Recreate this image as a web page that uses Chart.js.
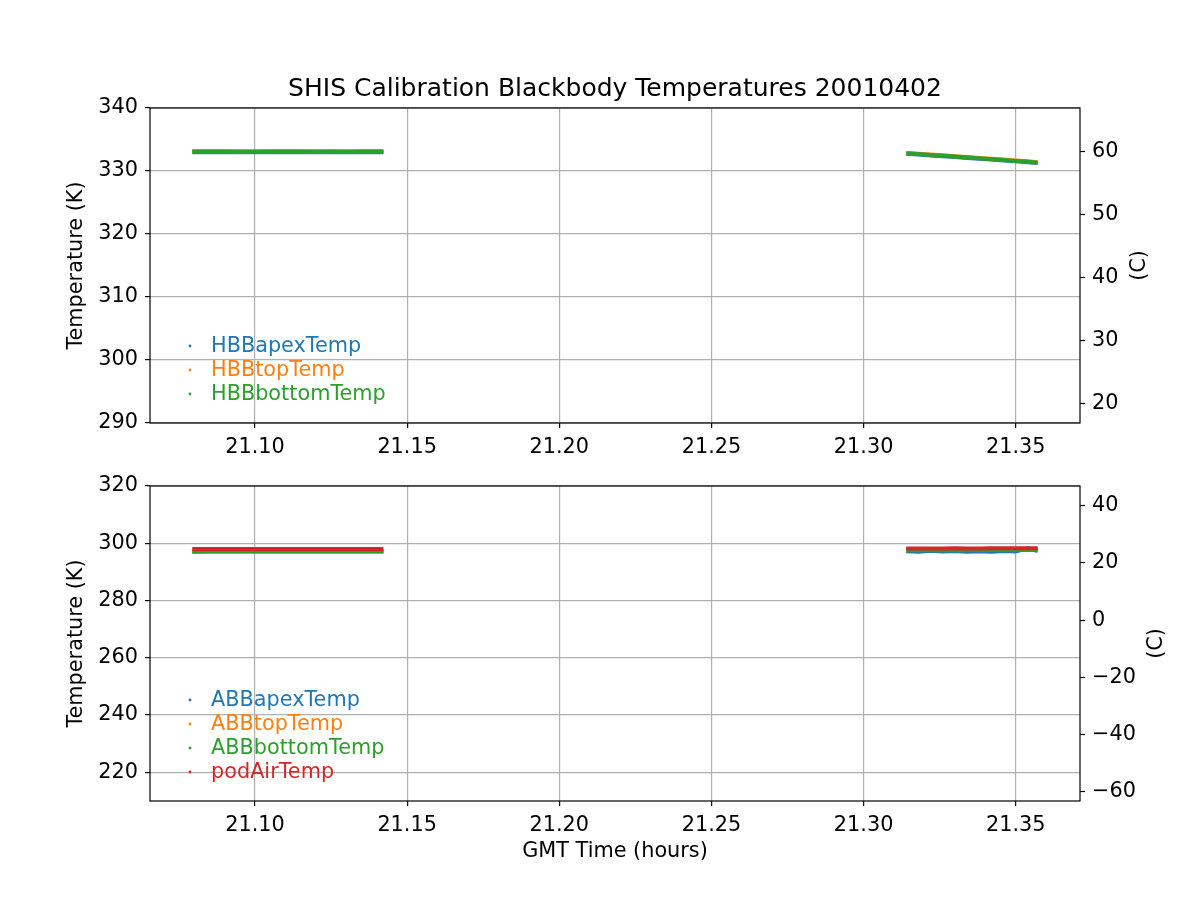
<!DOCTYPE html>
<html>
<head>
<meta charset="utf-8">
<script src="https://cdn.jsdelivr.net/npm/chart.js@4.4.0/dist/chart.umd.min.js"></script>
<style>
body { margin: 0; background: #fff; }
#wrap { position: relative; width: 1200px; height: 900px; }
canvas { position: absolute; left: 0; }
#top-chart { top: 0; }
#bottom-chart { top: 460px; }
</style>
</head>
<body>
<div id="wrap">
<canvas id="top-chart" width="1200" height="460"></canvas>
<canvas id="bottom-chart" width="1200" height="440"></canvas>
</div>
<script>
// time stamps (GMT hours) for the two calibration runs
const timeA = [21.0794, 21.085, 21.090, 21.095, 21.100, 21.105, 21.110, 21.115, 21.120, 21.125, 21.130, 21.135, 21.1422];
const timeB = [21.314, 21.318, 21.322, 21.326, 21.330, 21.334, 21.338, 21.342, 21.346, 21.350, 21.354, 21.3572];

// hot blackbody (K)
const hbbApexA = [332.98, 332.98, 332.97, 332.98, 332.98, 332.98, 332.97, 332.98, 332.98, 332.98, 332.97, 332.98, 332.98];
const hbbTopA = [333.12, 333.12, 333.12, 333.11, 333.12, 333.12, 333.12, 333.12, 333.11, 333.12, 333.12, 333.12, 333.12];
const hbbBottomA = [333.08, 333.08, 333.08, 333.08, 333.07, 333.08, 333.08, 333.08, 333.08, 333.08, 333.07, 333.08, 333.08];
const hbbApexB = [332.72, 332.60, 332.47, 332.36, 332.22, 332.08, 331.95, 331.81, 331.68, 331.53, 331.40, 331.26];
const hbbTopB = [332.86, 332.74, 332.61, 332.49, 332.35, 332.22, 332.08, 331.95, 331.81, 331.67, 331.53, 331.40];
const hbbBottomB = [332.80, 332.68, 332.55, 332.43, 332.29, 332.15, 332.02, 331.88, 331.74, 331.60, 331.46, 331.30];

// ambient blackbody + pod air (K)
const abbApexA = [297.15, 297.15, 297.1, 297.15, 297.15, 297.15, 297.15, 297.1, 297.15, 297.15, 297.15, 297.15, 297.15];
const abbTopA = [297.25, 297.25, 297.25, 297.25, 297.25, 297.25, 297.25, 297.25, 297.25, 297.25, 297.25, 297.25, 297.25];
const abbBottomA = [297.0, 297.2, 297.2, 297.2, 297.2, 297.2, 297.2, 297.2, 297.2, 297.2, 297.2, 297.2, 297.2];
const podAirA = [298.0, 298.0, 298.0, 298.0, 298.0, 298.0, 298.0, 298.0, 298.0, 298.0, 298.0, 298.0, 298.0];
const abbApexB = [297.2, 297.0, 297.4, 297.1, 297.3, 297.0, 297.2, 297.0, 297.3, 297.1, 298.3, 297.3];
const abbTopB = [297.7, 297.7, 297.7, 297.7, 297.7, 297.7, 297.7, 297.7, 297.7, 297.7, 297.7, 297.7];
const abbBottomB = [297.6, 297.6, 297.65, 297.6, 297.65, 297.6, 297.65, 297.65, 297.6, 297.65, 297.65, 297.65];
const podAirB = [298.15, 298.2, 298.2, 298.2, 298.25, 298.2, 298.2, 298.25, 298.3, 298.3, 298.3, 298.3];

// axis ticks
const timeTicks = [21.10, 21.15, 21.20, 21.25, 21.30, 21.35];
const topKTicks = [290, 300, 310, 320, 330, 340];
const topCTicks = [20, 30, 40, 50, 60];
const bottomKTicks = [220, 240, 260, 280, 300, 320];
const bottomCTicks = [-60, -40, -20, 0, 20, 40];

const blue = '#1f77b4', orange = '#ff7f0e', green = '#2ca02c', red = '#d62728';
const FONT = 'DejaVu Sans';
const xMin = 21.0655, xMax = 21.3711;

function series(ta, va, tb, vb) {
    let pts = ta.map((t, i) => ({ x: t, y: va[i] }));
    pts.push({ x: (ta[ta.length - 1] + tb[0]) / 2, y: null });
    return pts.concat(tb.map((t, i) => ({ x: t, y: vb[i] })));
}

function dataset(label, color, order, pts) {
    return {
        label: label,
        data: pts,
        borderColor: color,
        backgroundColor: color,
        borderWidth: 4,
        pointRadius: 0,
        fill: false,
        tension: 0,
        spanGaps: false,
        order: order
    };
}

const minus = v => String(v).replace('-', '\u2212');

const frame = {
    id: 'frame',
    afterDraw(chart) {
        const { ctx, chartArea: a } = chart;
        ctx.save();
        ctx.strokeStyle = '#000';
        ctx.lineWidth = 1.2;
        ctx.strokeRect(a.left, a.top, a.right - a.left, a.bottom - a.top);
        ctx.restore();
    }
};

// legend sitting inside the plot, bottom left, text in series colour
const innerLegend = {
    id: 'innerLegend',
    afterDraw(chart) {
        const { ctx, chartArea: a } = chart;
        const sets = chart.data.datasets;
        ctx.save();
        ctx.font = '20.8px "' + FONT + '"';
        ctx.textBaseline = 'middle';
        sets.forEach((ds, i) => {
            let y = a.bottom - 28 - (sets.length - 1 - i) * 24;
            ctx.fillStyle = ds.borderColor;
            ctx.beginPath();
            ctx.arc(a.left + 40, y - 1, 1.4, 0, Math.PI * 2);
            ctx.fill();
            ctx.fillText(ds.label, a.left + 61, y);
        });
        ctx.restore();
    }
};

const extraText = {
    id: 'extraText',
    afterDraw(chart, args, opts) {
        const { ctx, chartArea: a } = chart;
        ctx.save();
        ctx.fillStyle = '#000';
        if (opts.title) {
            ctx.font = '25px "' + FONT + '"';
            ctx.textAlign = 'center';
            ctx.textBaseline = 'alphabetic';
            ctx.fillText(opts.title, (a.left + a.right) / 2, a.top - 12.5);
        }
        ctx.font = '20.8px "' + FONT + '"';
        ctx.textAlign = 'center';
        ctx.textBaseline = 'middle';
        ctx.translate(opts.rightX, (a.top + a.bottom) / 2);
        ctx.rotate(-Math.PI / 2);
        ctx.fillText('(C)', 0, 0);
        ctx.restore();
    }
};

function makeChart(canvas, datasets, o) {
    const tickFont = { family: FONT, size: 20.8 };
    const grid = { color: '#b0b0b0', lineWidth: 1.2, tickColor: '#000', tickWidth: 1.2, tickLength: 5 };
    return new Chart(canvas, {
        type: 'line',
        data: { datasets: datasets },
        options: {
            responsive: false,
            devicePixelRatio: 1,
            animation: false,
            layout: { padding: { top: o.padTop, left: 0, right: 0, bottom: 0 } },
            scales: {
                x: {
                    type: 'linear',
                    min: xMin,
                    max: xMax,
                    afterBuildTicks: s => { s.ticks = timeTicks.map(v => ({ value: v })); },
                    afterFit: s => { s.height = o.xHeight; },
                    grid: grid,
                    border: { display: false },
                    ticks: { autoSkip: false, maxRotation: 0, padding: 7, color: '#000', font: tickFont, callback: v => v.toFixed(2) },
                    title: { display: !!o.xTitle, text: o.xTitle, color: '#000', font: tickFont, padding: { top: 0, bottom: 35.5 } }
                },
                y: {
                    position: 'left',
                    min: o.kMin,
                    max: o.kMax,
                    afterBuildTicks: s => { s.ticks = o.kTicks.map(v => ({ value: v })); },
                    afterFit: s => { s.width = 150; },
                    grid: grid,
                    border: { display: false },
                    ticks: { autoSkip: false, padding: 7, color: '#000', font: tickFont, callback: minus },
                    title: { display: true, text: 'Temperature (K)', color: '#000', font: tickFont, padding: { top: 64, bottom: 0 } }
                },
                y2: {
                    position: 'right',
                    min: o.kMin - 273.15,
                    max: o.kMax - 273.15,
                    afterBuildTicks: s => { s.ticks = o.cTicks.map(v => ({ value: v })); },
                    afterFit: s => { s.width = 120; },
                    grid: { drawOnChartArea: false, tickColor: '#000', tickWidth: 1.2, tickLength: 5 },
                    border: { display: false },
                    ticks: { autoSkip: false, padding: 7, color: '#000', font: tickFont, callback: minus }
                }
            },
            plugins: {
                legend: { display: false },
                tooltip: { enabled: false },
                extraText: { title: o.title, rightX: o.rightX }
            }
        },
        plugins: [frame, innerLegend, extraText]
    });
}

makeChart(document.getElementById('top-chart'), [
    dataset('HBBapexTemp', blue, 3, series(timeA, hbbApexA, timeB, hbbApexB)),
    dataset('HBBtopTemp', orange, 2, series(timeA, hbbTopA, timeB, hbbTopB)),
    dataset('HBBbottomTemp', green, 1, series(timeA, hbbBottomA, timeB, hbbBottomB))
], {
    padTop: 108, xHeight: 37, kMin: 290, kMax: 340, kTicks: topKTicks, cTicks: topCTicks,
    title: 'SHIS Calibration Blackbody Temperatures 20010402', rightX: 1140
});

makeChart(document.getElementById('bottom-chart'), [
    dataset('ABBapexTemp', blue, 3, series(timeA, abbApexA, timeB, abbApexB)),
    dataset('ABBtopTemp', orange, 2, series(timeA, abbTopA, timeB, abbTopB)),
    dataset('ABBbottomTemp', green, 1, series(timeA, abbBottomA, timeB, abbBottomB)),
    dataset('podAirTemp', red, 0, series(timeA, podAirA, timeB, podAirB))
], {
    padTop: 26, xHeight: 99, kMin: 210, kMax: 320, kTicks: bottomKTicks, cTicks: bottomCTicks,
    xTitle: 'GMT Time (hours)', rightX: 1157
});
</script>
</body>
</html>
